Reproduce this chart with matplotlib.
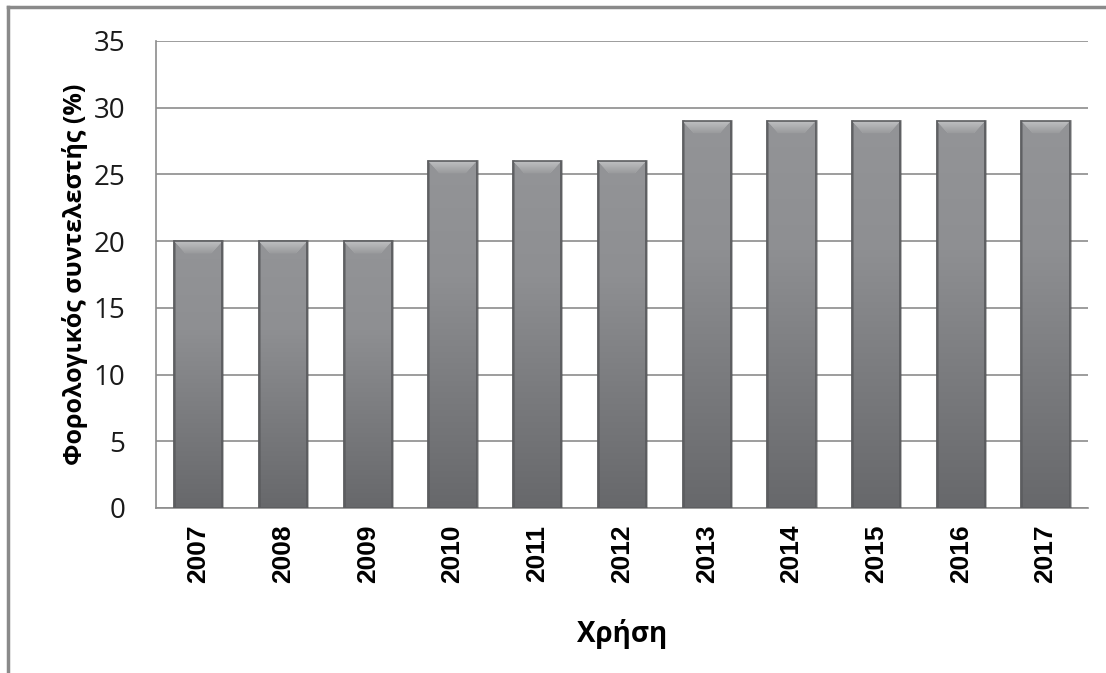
import numpy as np
import matplotlib
matplotlib.use('Agg')
import matplotlib.pyplot as plt
from matplotlib.lines import Line2D
from matplotlib.patches import Polygon, Rectangle

years = ['2007', '2008', '2009', '2010', '2011', '2012',
         '2013', '2014', '2015', '2016', '2017']
rates = [20, 20, 20, 26, 26, 26, 29, 29, 29, 29, 29]

plt.rcParams['font.family'] = ['Open Sans', 'DejaVu Sans']

fig = plt.figure(figsize=(11.06, 6.73), dpi=100)
ax = fig.add_axes([0.1410, 0.2452, 0.8427, 0.6939])

x = np.arange(len(years))
width = 0.57
ax.set_xlim(-0.5, len(years) - 0.5)
ax.set_ylim(0, 35)

# vertical gradient for bar fill (light at top, dark at bottom)
grad = np.linspace(0, 1, 256).reshape(-1, 1)
cmap = matplotlib.colors.LinearSegmentedColormap.from_list(
    'barshade', ['#67686b', '#7a7b7e', '#8e8f92', '#939497'])
bevel_cmap = matplotlib.colors.LinearSegmentedColormap.from_list(
    'bevel', ['#9a9b9d', '#c2c3c5'])

bevel_h = 0.9
bevel_w = 0.13
for xi, v in zip(x, rates):
    x0, x1 = xi - width / 2, xi + width / 2
    im = ax.imshow(grad, cmap=cmap, aspect='auto', origin='lower',
                   extent=[x0, x1, 0, v], zorder=3, interpolation='bilinear')
    rect = Rectangle((x0, 0), width, v, facecolor='none', edgecolor='#5c5d60',
                     linewidth=1.2, zorder=6)
    ax.add_patch(rect)
    im.set_clip_path(rect)
    # bevelled top face
    top = Polygon([(x0, v), (x1, v), (x1 - bevel_w, v - bevel_h), (x0 + bevel_w, v - bevel_h)],
                  closed=True, facecolor='#aeafb1', edgecolor='none', zorder=5)
    ax.add_patch(top)
    bim = ax.imshow(grad, cmap=bevel_cmap, aspect='auto', origin='lower',
                    extent=[x0, x1, v - bevel_h, v], zorder=5.5, interpolation='bilinear')
    bim.set_clip_path(top)
    for side in (x0, x1):
        ax.plot([side, side], [0, v], color='#4e4f51', linewidth=2, alpha=0.45, zorder=4)

ax.set_yticks(range(0, 36, 5))
ax.yaxis.grid(True, color='#8c8c8c', linewidth=1.2)
ax.set_axisbelow(True)
ax.set_xticks(x)
ax.set_xticklabels(years, rotation=90, fontsize=19, fontweight='bold',
                   family=['Liberation Sans', 'DejaVu Sans'])
ax.tick_params(axis='y', length=0, pad=22, labelsize=20, colors='#1a1a1a')
ax.tick_params(axis='x', length=0, pad=12)

for s in ['top', 'right']:
    ax.spines[s].set_visible(False)
for s in ['left', 'bottom']:
    ax.spines[s].set_color('#8c8c8c')
    ax.spines[s].set_linewidth(1.2)

ax.set_ylabel('Φορολογικός συντελεστής (%)', fontsize=18, fontweight='bold', labelpad=4)
ax.set_xlabel('Χρήση', fontsize=20, fontweight='bold', labelpad=26)

# outer chart frame (top and left edges)
fig.add_artist(Line2D([8 / 1106, 1], [1 - 7 / 673, 1 - 7 / 673], color='#8a8a8a', linewidth=2.5))
fig.add_artist(Line2D([8 / 1106, 8 / 1106], [0, 1 - 7 / 673], color='#8a8a8a', linewidth=2.5))

fig.savefig('out.png', dpi=100)
